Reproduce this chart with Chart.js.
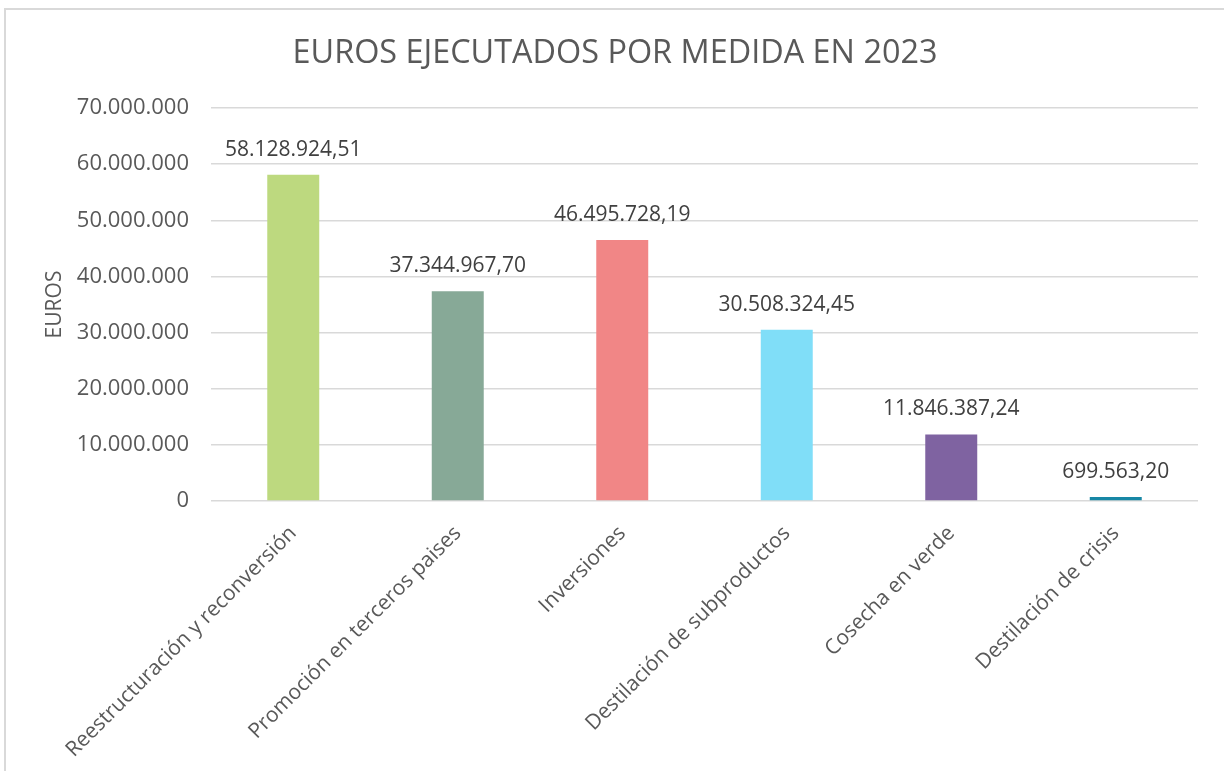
<!DOCTYPE html>
<html>
<head>
<meta charset="utf-8">
<script src="https://cdn.jsdelivr.net/npm/chart.js@4.4.1/dist/chart.umd.min.js"></script>
<style>
  html, body { margin: 0; padding: 0; background: #ffffff; width: 1224px; height: 771px; overflow: hidden; }
  #frame { position: absolute; left: 4px; top: 8px; width: 1400px; height: 900px;
           border-top: 2px solid #d9d9d9; border-left: 2px solid #d9d9d9; }
  #wrap { position: absolute; left: 0; top: 0; width: 1224px; height: 771px; }
</style>
</head>
<body>
<div id="frame"></div>
<div id="wrap"><canvas id="c" width="1224" height="771"></canvas></div>
<script>
const chartTitle = 'EUROS EJECUTADOS POR MEDIDA EN 2023';
const yAxisTitle = 'EUROS';
const categories = [
  'Reestructuración y reconversión',
  'Promoción en terceros paises',
  'Inversiones',
  'Destilación de subproductos',
  'Cosecha en verde',
  'Destilación de crisis'
];
const values = [58128924.51, 37344967.70, 46495728.19, 30508324.45, 11846387.24, 699563.20];
const barColors = ['#BDD97F', '#87A997', '#F18686', '#80DEF8', '#7F63A1', '#1787A5'];
const yMin = 0, yMax = 70000000, yStep = 10000000;

function groupThousands(intStr) {
  return intStr.replace(/\B(?=(\d{3})+(?!\d))/g, '.');
}
function fmtTick(v) { return groupThousands(Math.round(v).toString()); }
function fmtValue(v) {
  const parts = v.toFixed(2).split('.');
  return groupThousands(parts[0]) + ',' + parts[1];
}

const FONT = "'Open Sans', 'Noto Sans', sans-serif";

const valueLabels = {
  id: 'valueLabels',
  afterDatasetsDraw(chart) {
    const ctx = chart.ctx;
    const meta = chart.getDatasetMeta(0);
    ctx.save();
    ctx.font = '21px ' + FONT;
    ctx.fillStyle = '#404040';
    ctx.textAlign = 'center';
    ctx.textBaseline = 'middle';
    meta.data.forEach((bar, i) => {
      ctx.fillText(fmtValue(values[i]), bar.x, bar.y - 25);
    });
    ctx.restore();
  }
};

// Title centred in the (slightly wider) chart frame, as in the reference
const frameTitle = {
  id: 'frameTitle',
  afterDraw(chart) {
    const ctx = chart.ctx;
    ctx.save();
    ctx.font = '32.4px ' + FONT;
    ctx.fillStyle = '#595959';
    ctx.textAlign = 'center';
    ctx.textBaseline = 'alphabetic';
    ctx.fillText(chartTitle, chart.width / 2 + 3, 63);
    ctx.restore();
  }
};

new Chart(document.getElementById('c'), {
  type: 'bar',
  data: {
    labels: categories,
    datasets: [{
      data: values,
      backgroundColor: barColors,
      borderWidth: 0,
      barPercentage: 0.316,
      categoryPercentage: 1.0
    }]
  },
  options: {
    responsive: false,
    animation: false,
    layout: { padding: { left: 20, right: 26, top: 108, bottom: 0 } },
    plugins: {
      legend: { display: false },
      tooltip: { enabled: false },
      title: { display: false }
    },
    scales: {
      x: {
        grid: { display: false },
        border: { display: false },
        ticks: {
          color: '#595959',
          font: { family: FONT, size: 21 },
          minRotation: 45,
          maxRotation: 45,
          autoSkip: false,
          padding: 12
        },
        afterFit(scale) { scale.height = 270; }
      },
      y: {
        min: yMin,
        max: yMax,
        border: { display: false },
        grid: { color: '#d9d9d9', lineWidth: 1.5, drawTicks: false },
        ticks: {
          stepSize: yStep,
          color: '#595959',
          font: { family: FONT, size: 22 },
          padding: 22,
          callback: (v) => fmtTick(v)
        },
        title: {
          display: true,
          text: yAxisTitle,
          color: '#595959',
          font: { family: FONT, size: 21, weight: 'normal' },
          padding: { top: 22, bottom: 0 }
        },
        afterFit(scale) { scale.width = 191; }
      }
    }
  },
  plugins: [valueLabels, frameTitle]
});
</script>
</body>
</html>
